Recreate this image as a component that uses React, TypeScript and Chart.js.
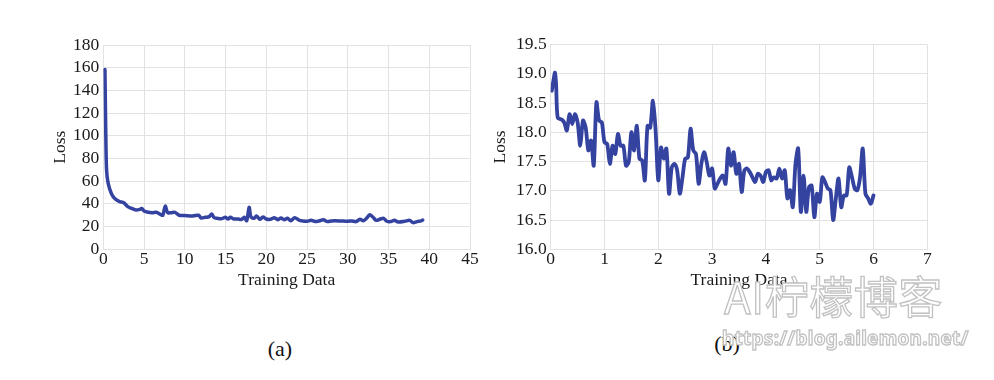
import React, { useEffect, useRef } from 'react';
import { Chart, registerables } from 'chart.js';

Chart.register(...registerables);

// ---- Data: chart (a) ----
const epochsA = [0.2, 0.3, 0.4, 0.6, 1.0, 1.5, 2, 2.5, 3, 3.5, 4, 4.5, 4.7, 5, 5.5, 6, 6.5, 7, 7.3, 7.6, 7.9, 8.3, 8.8, 9.3, 10, 11, 11.7, 12, 12.5, 13, 13.3, 13.6, 14, 14.5, 15, 15.3, 15.6, 16, 16.5, 17, 17.3, 17.6, 17.9, 18.1, 18.5, 18.8, 19.2, 19.6, 20, 20.5, 21, 21.4, 21.8, 22.2, 22.6, 23, 23.5, 24, 24.5, 25, 25.5, 26, 26.5, 27, 27.5, 28, 29, 30, 30.5, 31, 31.5, 31.9, 32.3, 32.7, 33.1, 33.5, 34, 34.4, 34.8, 35.3, 35.7, 36.2, 37, 37.6, 38, 38.5, 39, 39.2];
const lossA = [158.5, 105, 70, 58, 49, 44, 42, 41, 37.6, 36, 34.6, 35.2, 36, 33.8, 32.6, 32.3, 32.6, 30.8, 30, 38, 32.3, 32.3, 32.6, 30, 29.7, 29.4, 30, 27.6, 28.2, 28.8, 31.1, 27.9, 27.3, 27, 28.2, 26.7, 28.2, 26.7, 26.7, 26.4, 28.2, 25.2, 37, 28.8, 27.3, 29.4, 26.4, 28.5, 26.7, 26.4, 27.9, 26.1, 27.6, 26.1, 27.3, 25.2, 27.9, 25.8, 25, 24.7, 25.5, 24.4, 25, 26.1, 24.4, 25, 25, 24.7, 25, 24.4, 26.4, 25.2, 27.3, 30.5, 28.2, 25.5, 26.7, 27.3, 24.7, 24.4, 25.5, 24.1, 24.7, 25.5, 23.5, 24.4, 25, 25.8];

// ---- Data: chart (b) ----
const epochsB = [0.02, 0.05, 0.08, 0.1, 0.13, 0.2, 0.25, 0.3, 0.35, 0.4, 0.45, 0.5, 0.55, 0.6, 0.65, 0.7, 0.75, 0.8, 0.85, 0.9, 0.95, 1.0, 1.05, 1.1, 1.15, 1.2, 1.25, 1.3, 1.35, 1.4, 1.45, 1.5, 1.55, 1.6, 1.65, 1.7, 1.75, 1.8, 1.85, 1.9, 1.95, 2.0, 2.05, 2.1, 2.15, 2.2, 2.25, 2.3, 2.35, 2.4, 2.45, 2.5, 2.55, 2.6, 2.65, 2.7, 2.75, 2.8, 2.85, 2.9, 2.95, 3.0, 3.05, 3.1, 3.15, 3.2, 3.25, 3.3, 3.35, 3.4, 3.45, 3.5, 3.55, 3.6, 3.65, 3.7, 3.75, 3.8, 3.85, 3.9, 3.95, 4.0, 4.05, 4.1, 4.15, 4.2, 4.25, 4.3, 4.35, 4.4, 4.45, 4.5, 4.55, 4.6, 4.65, 4.7, 4.75, 4.8, 4.85, 4.9, 4.95, 5.0, 5.05, 5.1, 5.15, 5.2, 5.25, 5.3, 5.35, 5.4, 5.45, 5.5, 5.55, 5.6, 5.65, 5.7, 5.75, 5.8, 5.85, 5.9, 5.95, 6.0];
const lossB = [18.71, 18.88, 19.02, 18.82, 18.25, 18.22, 18.17, 18.03, 18.31, 18.14, 18.31, 18.17, 17.77, 18.2, 18.08, 17.69, 17.86, 17.43, 18.51, 18.2, 18.17, 17.83, 17.8, 17.46, 17.77, 17.63, 17.97, 17.77, 17.77, 17.43, 17.49, 18.0, 17.69, 18.11, 17.55, 17.52, 17.18, 18.11, 18.08, 18.54, 18.03, 17.18, 17.74, 17.55, 17.72, 16.95, 17.4, 17.46, 17.35, 16.95, 17.23, 17.55, 17.57, 18.06, 17.69, 17.63, 17.12, 17.46, 17.66, 17.49, 17.26, 17.38, 17.04, 17.12, 17.21, 17.26, 17.12, 17.72, 17.43, 17.66, 17.29, 17.46, 16.98, 17.35, 17.38, 17.32, 17.23, 17.15, 17.29, 17.26, 17.15, 17.32, 17.35, 17.18, 17.23, 17.21, 17.38, 17.21, 17.35, 16.87, 17.01, 16.72, 17.46, 17.72, 16.64, 17.26, 16.64, 17.06, 17.09, 16.55, 16.95, 16.81, 17.23, 17.15, 17.04, 17.01, 16.5, 16.87, 17.21, 16.72, 16.92, 16.92, 17.4, 17.23, 17.04, 17.01, 17.23, 17.72, 16.95, 16.87, 16.78, 16.92];

const LINE = '#3442a0';
const GRID = '#e2e2e2';
const TXT = '#1a1a1a';
const SERIF = "'Liberation Serif', 'Times New Roman', serif";
const FS = 17.5;

type Props = {
  xs: number[]; ys: number[];
  xMax: number; xStep: number;
  yMin: number; yMax: number; yStep: number;
  decimals: boolean;
  yAxisWidth: number; padTop: number; padRight: number; yTitlePad: number;
  lineWidth: number;
  left: number; top: number; width: number; height: number;
};

function LossChart(p: Props) {
  const ref = useRef<HTMLCanvasElement | null>(null);
  useEffect(() => {
    if (!ref.current) return;
    const data = p.xs.map((x, i) => ({ x, y: p.ys[i] }));
    const font = { family: SERIF, size: FS };
    const chart = new Chart(ref.current, {
      type: 'line',
      data: {
        datasets: [{
          data,
          borderColor: LINE,
          borderWidth: p.lineWidth,
          pointRadius: 0,
          tension: 0.3,
          fill: false,
          borderJoinStyle: 'round',
          borderCapStyle: 'round',
        }],
      },
      options: {
        animation: false,
        responsive: false,
        maintainAspectRatio: false,
        layout: { padding: { top: p.padTop, right: p.padRight, left: 0, bottom: 0 } },
        plugins: { legend: { display: false }, tooltip: { enabled: false } },
        scales: {
          x: {
            type: 'linear',
            min: 0, max: p.xMax,
            ticks: { stepSize: p.xStep, padding: 0, color: TXT, font, maxRotation: 0, autoSkip: false },
            grid: { color: GRID, drawTicks: false, lineWidth: 1 },
            border: { color: GRID },
            title: { display: true, text: 'Training Data', color: TXT, font, padding: { top: 0, bottom: 9 } },
            afterFit: (s: any) => { s.height = 50.7; },
          },
          y: {
            type: 'linear',
            min: p.yMin, max: p.yMax,
            ticks: {
              stepSize: p.yStep, padding: 4, color: TXT, font, autoSkip: false,
              callback: (v: any) => (p.decimals ? Number(v).toFixed(1) : String(v)),
            },
            grid: { color: GRID, drawTicks: false, lineWidth: 1 },
            border: { color: GRID },
            title: { display: true, text: 'Loss', color: TXT, font, padding: { top: p.yTitlePad, bottom: 0 } },
            afterFit: (s: any) => { s.width = p.yAxisWidth; },
          },
        },
      },
    } as any);
    return () => chart.destroy();
  }, []);
  return (
    <canvas
      ref={ref}
      width={p.width}
      height={p.height}
      style={{ position: 'absolute', left: p.left, top: p.top, width: p.width, height: p.height, display: 'block' }}
    />
  );
}

export default function App() {
  const stroke: any = { color: '#ffffff', WebkitTextStroke: '1.3px #c2c2c2' };
  return (
    <div style={{ position: 'absolute', left: 0, top: 0, width: 994, height: 380, background: '#fff', overflow: 'hidden' }}>
      <LossChart xs={epochsA} ys={lossA} xMax={45} xStep={5} yMin={0} yMax={180} yStep={20} decimals={false}
        yAxisWidth={63.3} padTop={15} padRight={20} yTitlePad={10} lineWidth={3.5}
        left={40} top={30} width={450} height={270} />
      <LossChart xs={epochsB} ys={lossB} xMax={7} xStep={1} yMin={16} yMax={19.5} yStep={0.5} decimals={true}
        yAxisWidth={60.7} padTop={13.3} padRight={22.7} yTitlePad={0} lineWidth={3.8}
        left={490} top={30} width={460} height={270} />
      <div style={{ position: 'absolute', left: 260, top: 336, width: 40, textAlign: 'center', fontFamily: SERIF, fontSize: 22, color: '#111', lineHeight: '26px' }}>(a)</div>
      <div style={{ position: 'absolute', left: 707, top: 331, width: 40, textAlign: 'center', fontFamily: SERIF, fontSize: 22, color: '#111', lineHeight: '26px' }}>(b)</div>
      <div style={{ position: 'absolute', left: 724, top: 270, fontFamily: "'Noto Sans CJK SC', 'Noto Sans', sans-serif", fontSize: 44, fontWeight: 400, lineHeight: '50px', whiteSpace: 'nowrap', letterSpacing: 0.5, ...stroke }}>AI柠檬博客</div>
      <div style={{ position: 'absolute', left: 722, top: 327, fontFamily: "'Noto Sans', sans-serif", fontSize: 19, fontWeight: 700, lineHeight: '22px', whiteSpace: 'nowrap', letterSpacing: 0.25, ...stroke }}>https://blog.ailemon.net/</div>
    </div>
  );
}
